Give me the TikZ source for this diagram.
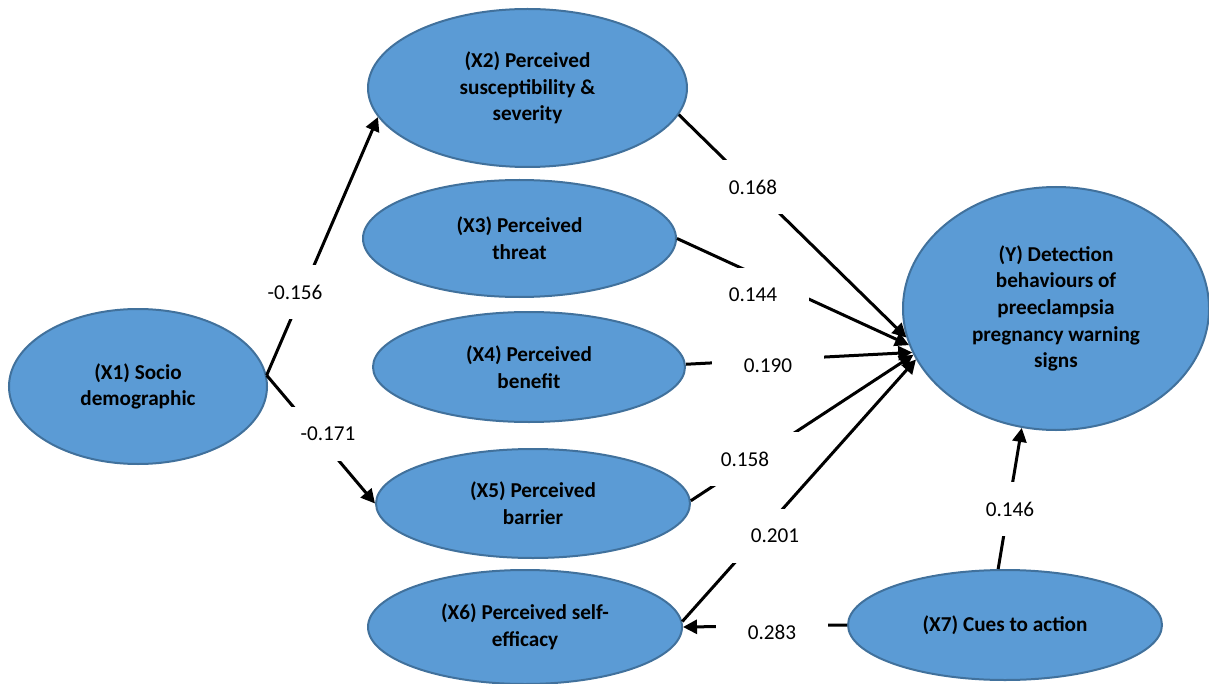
\documentclass[tikz,border=0pt]{standalone}
\usepackage{fontspec}
\setmainfont{Carlito}
\usetikzlibrary{arrows.meta, shapes.geometric}

\definecolor{constructfill}{RGB}{91,155,213}
\definecolor{constructline}{RGB}{65,113,156}

\begin{document}
\begin{tikzpicture}[
    x=0.5pt, y=-0.5pt,
    font=\fontsize{10.6}{13.3}\selectfont,
    construct/.style={
      ellipse,
      draw=constructline,
      fill=constructfill,
      line width=1pt,
      align=center,
      inner sep=0pt,
      font=\fontsize{10.6}{13.3}\selectfont\bfseries
    },
    coef/.style={
      fill=white,
      minimum width=56pt,
      minimum height=27pt,
      inner sep=0pt
    },
    arrow/.style={
      -{Triangle[length=7pt, width=7pt]},
      line width=1.5pt,
      draw=black
    }
  ]
  \useasboundingbox (0,0) rectangle (1209,684);

    % Constructs
    \node[construct, minimum width=129pt, minimum height=77.5pt] (x1) at (138,386.5) {(X1) Socio\\demographic};
    \node[construct, minimum width=159.5pt, minimum height=79pt] (x2) at (527.5,88) {(X2) Perceived\\susceptibility \&\\severity};
    \node[construct, minimum width=156.5pt, minimum height=58.5pt] (x3) at (519.5,238.5) {(X3) Perceived\\threat};
    \node[construct, minimum width=156pt, minimum height=55pt] (x4) at (529,367) {(X4) Perceived\\benefit};
    \node[construct, minimum width=157pt, minimum height=54.5pt] (x5) at (533,503.5) {(X5) Perceived\\barrier};
    \node[construct, minimum width=157pt, minimum height=57pt] (x6) at (525,627) {(X6) Perceived self-\\efficacy};
    \node[construct, minimum width=157pt, minimum height=55pt] (x7) at (1005,625) {(X7) Cues to action};
    \node[construct, minimum width=153pt, minimum height=121.5pt] (y) at (1056,308.5) {(Y) Detection\\behaviours of\\preeclampsia\\pregnancy warning\\signs};

    % Paths
    \draw[arrow] (x1.5) -- (x2.191);
    \draw[arrow] (x1.5) -- (x5.west);
    \draw[arrow] (x2.-10.6) -- (y.191);
    \draw[arrow] (x3.east) -- (y.194);
    \draw[arrow] (x4.1.5) -- (y.197);
    \draw[arrow] (x5.1) -- (y.198);
    \draw[arrow] (x6.2) -- (y.200);
    \draw[arrow] (x7.west) -- (x6.east);
    \draw[arrow] (x7.97) -- (y.254);

    % Path coefficients
    \node[coef] (c12) at (295,292) {-0.156};
    \node[coef] (c15) at (328,434) {-0.171};
    \node[coef] (c2y) at (753,187) {0.168};
    \node[coef] (c3y) at (753,295) {0.144};
    \node[coef] (c4y) at (768,366) {0.190};
    \node[coef] (c5y) at (745,459) {0.158};
    \node[coef] (c6y) at (775,536) {0.201};
    \node[coef] (c76) at (772,632) {0.283};
    \node[coef] (c7y) at (1010,509) {0.146};

  \end{tikzpicture}
\end{document}
